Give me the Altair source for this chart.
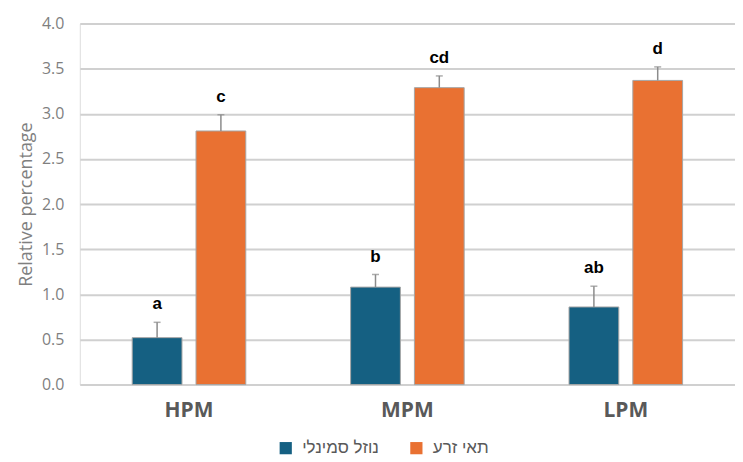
import altair as alt
import pandas as pd

groups = ["HPM", "MPM", "LPM"]
series = ["נוזל סמינלי", "תאי זרע"]
seminal = [0.52, 1.08, 0.86]
seminal_err = [0.17, 0.14, 0.23]
sperm = [2.81, 3.29, 3.37]
sperm_err = [0.18, 0.13, 0.15]
seminal_letters = ["a", "b", "ab"]
sperm_letters = ["c", "cd", "d"]
colors = ["#156082", "#E97132"]

rows = []
for i, g in enumerate(groups):
    rows.append(dict(group=g, series=series[0], value=seminal[i],
                     upper=seminal[i] + seminal_err[i], letter=seminal_letters[i]))
    rows.append(dict(group=g, series=series[1], value=sperm[i],
                     upper=sperm[i] + sperm_err[i], letter=sperm_letters[i]))
df = pd.DataFrame(rows)

x = alt.X("group:N", sort=groups, title=None,
          scale=alt.Scale(paddingInner=0.48, paddingOuter=0.24),
          axis=alt.Axis(labelAngle=0, labelFontSize=21, labelFontWeight="bold",
                        labelColor="#595959", labelPadding=15, ticks=False,
                        domain=False, labelFont="Open Sans"))
xo = alt.XOffset("series:N", sort=series,
                 scale=alt.Scale(paddingInner=0.22, paddingOuter=0))
y_scale = alt.Scale(domain=[0, 4])

base = alt.Chart(df)

bars = base.mark_bar(stroke="#a6a6a6", strokeWidth=1).encode(
    x=x, xOffset=xo,
    y=alt.Y("value:Q", scale=y_scale, title="Relative percentage",
            axis=alt.Axis(values=[0, 0.5, 1, 1.5, 2, 2.5, 3, 3.5, 4], format=".1f",
                          ticks=False, domain=False, gridColor="#d0d0d0", gridWidth=2,
                          labelFontSize=16, labelColor="#7f7f7f", labelPadding=16,
                          titleFontSize=18, titleColor="#7f7f7f", titleFontWeight="normal",
                          titlePadding=6, labelFont="Open Sans", titleFont="Open Sans")),
    color=alt.Color("series:N", sort=series,
                    scale=alt.Scale(domain=series, range=colors),
                    legend=alt.Legend(title=None, orient="none", direction="horizontal",
                                      legendX=198, legendY=417, symbolType="square",
                                      symbolSize=150, symbolStrokeWidth=0,
                                      labelFontSize=17, labelColor="#595959",
                                      labelFont="Liberation Sans", columnPadding=28,
                                      labelOffset=8)),
)

rules = base.mark_rule(color="#8c8c8c", strokeWidth=1.5).encode(
    x=x, xOffset=xo, y=alt.Y("value:Q", scale=y_scale), y2="upper:Q")

caps = base.mark_tick(color="#8c8c8c", size=7, thickness=1.5, orient="horizontal").encode(
    x=x, xOffset=xo, y=alt.Y("upper:Q", scale=y_scale))

labels = base.mark_text(fontWeight="bold", fontSize=17, color="#000000",
                        baseline="bottom", dy=-9, font="Liberation Sans").encode(
    x=x, xOffset=xo, y=alt.Y("upper:Q", scale=y_scale), text="letter:N")

chart = alt.layer(bars, rules, caps, labels).properties(
    width=657, height=362, padding={"left": 9, "top": 7, "right": 0, "bottom": 0}
).configure_view(stroke=None).configure(background="white")

chart.save("out.html", embed_options={"renderer": "svg", "actions": False})
